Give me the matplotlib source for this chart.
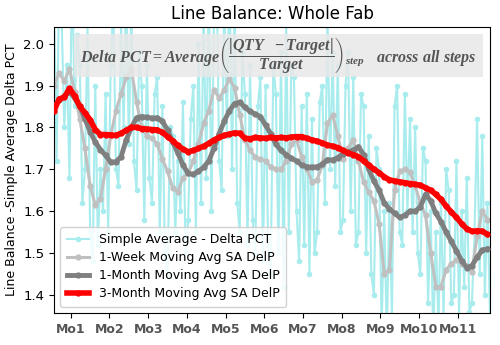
import matplotlib
matplotlib.use("Agg")
import matplotlib.pyplot as plt
import numpy as np
from matplotlib.patches import Rectangle

# Month tick labels and where they sit (day index).
month_labels = ["Mo1", "Mo2", "Mo3", "Mo4", "Mo5", "Mo6", "Mo7", "Mo8", "Mo9", "Mo10", "Mo11"]
month_days = [13, 43, 73, 103, 133, 163, 193, 223, 253, 283, 313]

# Daily simple average (every 2 days).
sa_days = list(range(0, 340, 2))
sa_delta_pct = [
    2.10, 1.72, 2.15, 2.05, 1.80, 1.95, 1.68, 2.20, 1.85, 2.02,
    1.95, 1.62, 1.70, 2.05, 1.55, 1.48, 1.90, 1.52, 1.70, 1.60,
    1.88, 1.55, 1.95, 2.10, 1.70, 1.66, 2.05, 1.80, 2.15, 1.76,
    2.08, 1.72, 1.65, 1.98, 1.90, 1.58, 1.95, 1.68, 1.62, 1.88,
    1.92, 1.55, 1.85, 1.50, 1.45, 1.80, 1.78, 1.55, 1.72, 1.60,
    1.86, 1.50, 1.58, 1.82, 1.90, 1.55, 2.00, 1.62, 2.10, 1.68,
    2.15, 1.60, 2.05, 2.20, 1.72, 1.65, 2.12, 1.78, 2.18, 1.70,
    2.10, 1.62, 1.55, 1.98, 1.88, 1.52, 1.95, 1.58, 1.50, 1.85,
    1.92, 1.48, 1.90, 1.52, 1.45, 1.95, 1.88, 1.50, 1.98, 1.42,
    2.05, 1.55, 1.95, 1.92, 1.60, 1.48, 1.85, 1.52, 1.88, 1.45,
    1.82, 1.50, 1.55, 1.86, 1.90, 1.62, 2.08, 1.70, 1.98, 1.66,
    1.95, 1.55, 1.58, 1.90, 1.98, 1.60, 1.92, 1.52, 1.55, 1.88,
    1.85, 1.50, 1.78, 1.45, 1.40, 1.75, 1.70, 1.32, 1.60, 1.30,
    1.62, 1.35, 1.85, 1.90, 1.55, 1.52, 1.88, 1.60, 1.82, 1.55,
    1.80, 1.50, 1.45, 1.75, 1.72, 1.38, 1.60, 1.30, 1.55, 1.32,
    1.62, 1.35, 1.70, 1.65, 1.38, 1.40, 1.72, 1.35, 1.60, 1.42,
    1.68, 1.36, 1.38, 1.55, 1.82, 1.45, 1.78, 1.40, 1.62, 1.35,
]

# Moving averages (every 4 days).
ma_days = list(range(0, 340, 4))
week_ma = [
    1.90, 1.93, 1.91, 1.94, 1.885, 1.82, 1.75, 1.66, 1.615, 1.63,
    1.70, 1.78, 1.84, 1.88, 1.92, 1.94, 1.86, 1.80, 1.78, 1.775,
    1.76, 1.725, 1.695, 1.655, 1.646, 1.68, 1.69, 1.72, 1.76, 1.81,
    1.84, 1.89, 1.87, 1.89, 1.915, 1.895, 1.83, 1.77, 1.745, 1.73,
    1.725, 1.72, 1.706, 1.70, 1.70, 1.72, 1.76, 1.77, 1.73, 1.70,
    1.67, 1.675, 1.71, 1.81, 1.83, 1.78, 1.725, 1.75, 1.77, 1.72,
    1.67, 1.645, 1.625, 1.57, 1.45, 1.46, 1.65, 1.695, 1.70, 1.693,
    1.66, 1.62, 1.59, 1.50, 1.42, 1.42, 1.46, 1.475, 1.483, 1.475,
    1.47, 1.455, 1.54, 1.60, 1.58,
]
month_ma = [
    1.85, 1.865, 1.875, 1.885, 1.87, 1.85, 1.82, 1.79, 1.765, 1.747,
    1.733, 1.717, 1.718, 1.73, 1.77, 1.80, 1.823, 1.826, 1.824, 1.822,
    1.823, 1.815, 1.794, 1.765, 1.739, 1.71, 1.69, 1.688, 1.695, 1.705,
    1.72, 1.75, 1.785, 1.815, 1.84, 1.857, 1.86, 1.848, 1.838, 1.832,
    1.826, 1.805, 1.785, 1.76, 1.745, 1.735, 1.726, 1.72, 1.71, 1.706,
    1.705, 1.706, 1.712, 1.723, 1.722, 1.728, 1.737, 1.742, 1.745, 1.754,
    1.735, 1.70, 1.672, 1.65, 1.62, 1.605, 1.595, 1.585, 1.59, 1.60,
    1.60, 1.61, 1.64, 1.625, 1.595, 1.575, 1.55, 1.528, 1.505, 1.482,
    1.465, 1.47, 1.49, 1.507, 1.51,
]
quarter_ma = [
    1.84, 1.868, 1.872, 1.893, 1.875, 1.85, 1.835, 1.818, 1.795, 1.783,
    1.783, 1.782, 1.781, 1.786, 1.793, 1.80, 1.80, 1.797, 1.796, 1.795,
    1.794, 1.788, 1.778, 1.768, 1.757, 1.748, 1.742, 1.745, 1.75, 1.755,
    1.762, 1.77, 1.776, 1.781, 1.784, 1.787, 1.786, 1.774, 1.773, 1.776,
    1.775, 1.774, 1.776, 1.775, 1.776, 1.775, 1.777, 1.778, 1.778, 1.774,
    1.77, 1.767, 1.763, 1.758, 1.755, 1.752, 1.745, 1.739, 1.735, 1.73,
    1.72, 1.71, 1.70, 1.692, 1.682, 1.675, 1.672, 1.67, 1.668, 1.666,
    1.664, 1.662, 1.656, 1.65, 1.64, 1.628, 1.612, 1.598, 1.585, 1.57,
    1.558, 1.552, 1.553, 1.552, 1.545,
]

plt.rcParams['mathtext.fontset'] = 'custom'
plt.rcParams['mathtext.it'] = 'Liberation Serif:italic:bold'
plt.rcParams['mathtext.rm'] = 'Liberation Serif:bold'
plt.rcParams['mathtext.bf'] = 'Liberation Serif:italic:bold'

fig = plt.figure(figsize=(5, 3.45), dpi=100)
ax = fig.add_axes([0.108, 0.093, 0.872, 0.829])

ax.plot(sa_days, sa_delta_pct, color='#a8ecee', lw=1.5, marker='o', ms=3,
        label='Simple Average - Delta PCT', zorder=1)
ax.plot(ma_days, week_ma, color='#c0c0c0', lw=2.2, marker='o', ms=3.5,
        label='1-Week Moving Avg SA DelP', zorder=2)
ax.plot(ma_days, month_ma, color='#7f7f7f', lw=3.5, marker='o', ms=3.5,
        label='1-Month Moving Avg SA DelP', zorder=3)
ax.plot(ma_days, quarter_ma, color='red', lw=4, marker='o', ms=3.5,
        label='3-Month Moving Avg SA DelP', zorder=4)

ax.set_xlim(0, 338)
ax.set_ylim(1.357, 2.04)
ax.set_yticks([1.4, 1.5, 1.6, 1.7, 1.8, 1.9, 2.0])
ax.set_xticks(month_days)
ax.set_xticklabels(month_labels, fontweight='bold', color='#555555', fontsize=9)
ax.tick_params(axis='y', labelsize=9.5)
ax.set_ylabel('Line Balance -Simple Average Delta PCT', fontsize=9)
ax.set_title('Line Balance: Whole Fab', fontsize=12)

# Formula banner
ax.add_patch(Rectangle((0.046, 0.825), 0.938, 0.151, transform=ax.transAxes,
                       facecolor='#e8e8e8', edgecolor='none', alpha=0.85, zorder=5))
formula = (r'$Delta\ PCT = Average\left(\dfrac{|QTY\ \ -Target|}{Target}\right)_{step}'
           r'\ \ \ across\ all\ steps$')
ax.text(0.515, 0.9, formula, transform=ax.transAxes, ha='center', va='center',
        fontsize=11.5, color='#555555', zorder=6)

leg = ax.legend(loc='lower left', fontsize=9, framealpha=0.85, edgecolor='#cccccc',
                handlelength=1.8, borderpad=0.5, labelspacing=0.4)
leg.set_zorder(7)

fig.savefig('out.png', dpi=100)
